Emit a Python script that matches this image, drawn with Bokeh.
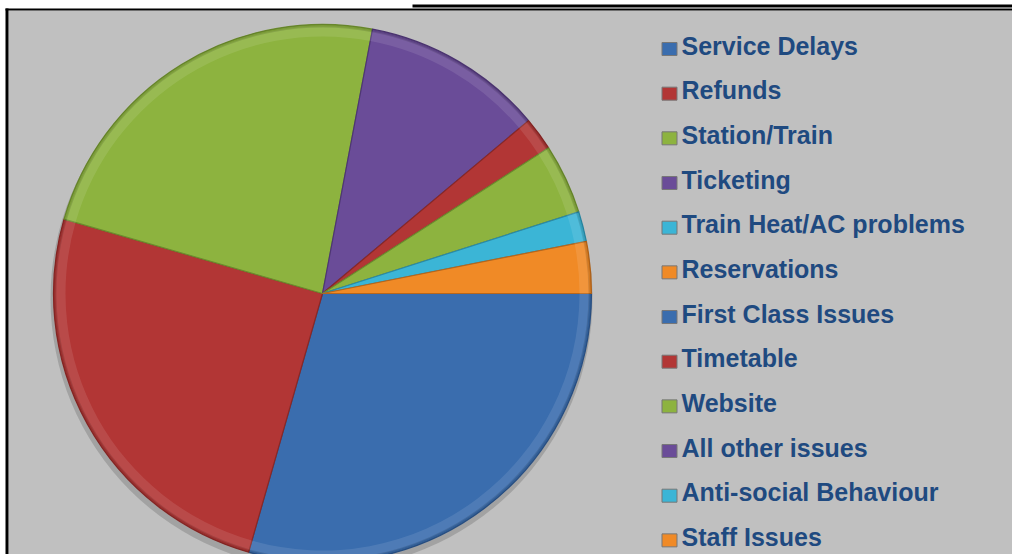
import numpy as np
from bokeh.plotting import figure
from bokeh.models import ColumnDataSource, Range1d
from bokeh.core.properties import value
from bokeh.embed import file_html
from bokeh.resources import INLINE

# ---- data ----
categories = ["Service Delays", "Refunds", "Station/Train", "Ticketing",
              "Train Heat/AC problems", "Reservations", "First Class Issues",
              "Timetable", "Website", "All other issues",
              "Anti-social Behaviour", "Staff Issues"]
shares = [29.4, 25.0, 23.5, 10.9, 0.0, 0.0, 0.0, 2.0, 4.2, 0.0, 1.8, 3.1]
colors = ["#3A6DAE", "#B23635", "#8DB33F", "#6A4C98", "#3BB5D6", "#F08A26",
          "#3A6DAE", "#B23635", "#8DB33F", "#6A4C98", "#3BB5D6", "#F08A26"]
edge_colors = ["#2A5287", "#8A2826", "#6C8C2E", "#4E3674", "#2A8AA6", "#B8661A",
               "#2A5287", "#8A2826", "#6C8C2E", "#4E3674", "#2A8AA6", "#B8661A"]

W, H = 1012, 554
p = figure(width=W, height=H, x_range=Range1d(0, W), y_range=Range1d(0, H),
           output_backend="svg", toolbar_location=None, min_border=0)
p.axis.visible = False
p.grid.visible = False
p.outline_line_color = None
p.background_fill_color = "white"
p.border_fill_color = "white"

# frame
p.quad(left=8, right=W, bottom=0, top=H - 10, fill_color="#C0C0C0", line_color=None)
p.quad(left=5, right=8, bottom=0, top=H - 8, fill_color="black", line_color=None)
p.quad(left=5, right=W, bottom=H - 10, top=H - 8, fill_color="black", line_color=None)
p.quad(left=412, right=W, bottom=H - 7, top=H - 4, fill_color="black", line_color=None)

# pie
vals = np.array(shares, dtype=float)
frac = vals / vals.sum() * 2 * np.pi
ends = np.cumsum(frac)
starts = ends - frac
mask = vals > 0
cx, cy, r = 322, H - 293, 269
src = ColumnDataSource(dict(start=list(-ends[mask]), end=list(-starts[mask]),
                            color=[c for c, m in zip(colors, mask) if m],
                            edge=[c for c, m in zip(edge_colors, mask) if m]))
# shadow
p.circle(x=cx - 1, y=cy - 5, radius=r + 2, fill_color="#7E7E7E", fill_alpha=0.45,
         line_color=None)
p.wedge(x=cx, y=cy, radius=r, start_angle="start", end_angle="end", source=src,
        fill_color="color", line_color="edge", line_width=1.2)
# bevel highlights
p.annular_wedge(x=cx, y=cy, inner_radius=r - 12, outer_radius=r - 2,
                start_angle="start", end_angle="end", source=src,
                fill_color="white", fill_alpha=0.10, line_color=None)
p.annular_wedge(x=cx, y=cy, inner_radius=r - 3, outer_radius=r,
                start_angle="start", end_angle="end", source=src,
                fill_color="black", fill_alpha=0.12, line_color=None)

# legend
n = len(categories)
rows = [55 + i * 44.67 for i in range(n)]
lsrc = ColumnDataSource(dict(y=[H - (b - 10) for b in rows],
                             ym=[H - (b - 6.5) for b in rows],
                             color=colors, edge=edge_colors, cat=categories))
p.rect(x=669, y="ym", width=15, height=13, source=lsrc, fill_color="color",
       line_color="#777777", line_width=1)
p.text(x=681, y="y", text="cat", source=lsrc, text_font=value("Liberation Sans"),
       text_font_style="bold", text_font_size="25px", text_color="#1F4A80",
       text_baseline="alphabetic", text_align="left")

open("out.html", "w").write(file_html(p, INLINE))
